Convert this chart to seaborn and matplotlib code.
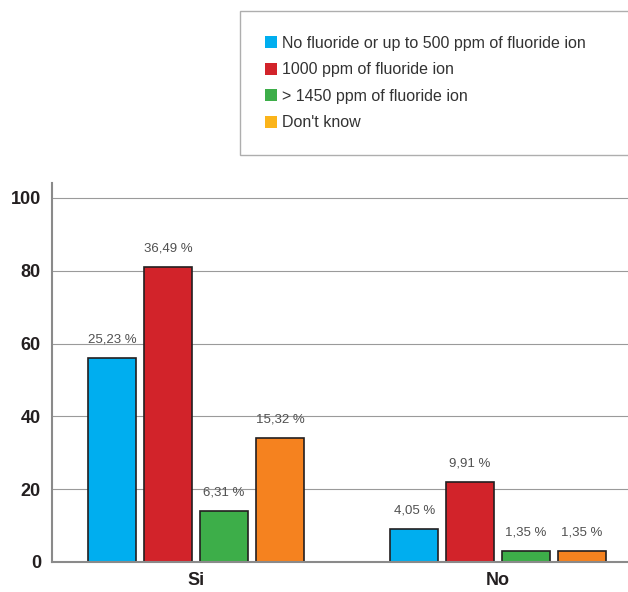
import numpy as np
import pandas as pd
import seaborn as sns
import matplotlib.pyplot as plt
from matplotlib.patches import Patch

#%% Datos
respuestas = ["Si", "No"]
tipos = ["No fluoride or up to 500 ppm of fluoride ion",
         "1000 ppm of fluoride ion",
         "> 1450 ppm of fluoride ion",
         "Don't know"]
cuentas_si = [56, 81, 14, 34]
cuentas_no = [9, 22, 3, 3]
pct_si = ["25,23 %", "36,49 %", "6,31 %", "15,32 %"]
pct_no = ["4,05 %", "9,91 %", "1,35 %", "1,35 %"]
colores = ["#00AEEF", "#D2232A", "#3DAE49", "#F5821F"]
colores_leyenda = ["#00AEEF", "#D2232A", "#3DAE49", "#FBB41A"]
yticks = [0, 20, 40, 60, 80, 100]

df = pd.DataFrame({
    "respuesta": [r for r in respuestas for _ in tipos],
    "tipo": tipos * 2,
    "cuenta": cuentas_si + cuentas_no,
})

#%% Grafica
sns.set_style("white")
plt.rcParams["font.family"] = ["Liberation Sans", "DejaVu Sans"]

fig = plt.figure(figsize=(6.28, 5.92), dpi=100)
ax = fig.add_axes([52 / 628, 1 - 562 / 592, 1 - 52 / 628, (562 - 183) / 592])

sns.barplot(data=df, x="respuesta", y="cuenta", hue="tipo", order=respuestas,
            hue_order=tipos, palette=colores, width=0.74, gap=0.14,
            edgecolor="#231F20", linewidth=1.2, saturation=1, legend=False, ax=ax)

for i, cont in enumerate(ax.containers):
    ax.bar_label(cont, labels=[pct_si[i], pct_no[i]], padding=9,
                 fontsize=9.5, color="#505050")

ax.set_ylim(0, 104.1)
ax.set_xlim(-0.477, 1.43)
ax.set_yticks(yticks)
ax.yaxis.grid(True, color="#9a9a9a", linewidth=0.8)
ax.set_axisbelow(True)
for s in ["top", "right"]:
    ax.spines[s].set_visible(False)
for s in ["left", "bottom"]:
    ax.spines[s].set_color("#8a8a8a")
    ax.spines[s].set_linewidth(1.5)
ax.tick_params(axis="y", length=0, pad=8, labelsize=13)
ax.tick_params(axis="x", length=0, pad=7, labelsize=13)
for lab in ax.get_xticklabels() + ax.get_yticklabels():
    lab.set_fontweight("bold")
    lab.set_color("#231F20")
ax.set_xlabel("")
ax.set_ylabel("")

handles = [Patch(facecolor=c, edgecolor="none") for c in colores_leyenda]
leg = fig.legend(handles, tipos, loc="upper left",
                 bbox_to_anchor=(240 / 628, 1 - 11 / 592, 0.7, 0.0),
                 mode="expand", frameon=True, fancybox=False,
                 fontsize=11.5, borderpad=1.55, labelspacing=0.72,
                 handlelength=0.75, handleheight=0.75, handletextpad=0.3,
                 borderaxespad=0)
leg.get_frame().set_edgecolor("#9a9a9a")
leg.get_frame().set_linewidth(1.0)
for t in leg.get_texts():
    t.set_color("#333333")

fig.savefig("out.png", dpi=100)
